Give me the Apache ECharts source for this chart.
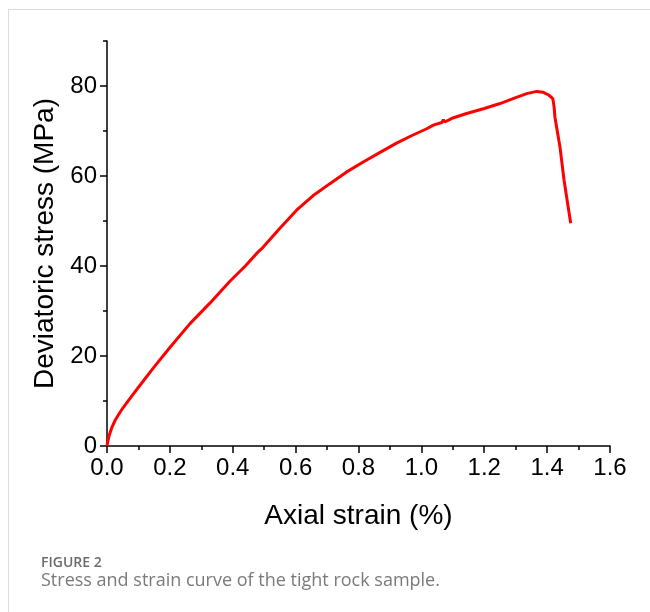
<!DOCTYPE html>
<html>
<head>
<meta charset="utf-8">
<script src="https://cdn.jsdelivr.net/npm/echarts@6/dist/echarts.min.js"></script>
<style>
  html, body { margin: 0; padding: 0; background: #fff; }
  #chart { width: 650px; height: 612px; }
</style>
</head>
<body>
<div id="chart"></div>
<script>
// axial strain (%)
var strain = [0, 0.003, 0.009, 0.016, 0.025, 0.038, 0.052, 0.068, 0.084, 0.105, 0.147, 0.2, 0.264, 0.328, 0.391, 0.44, 0.476, 0.497,
  0.55, 0.603, 0.655, 0.709, 0.76, 0.815, 0.87, 0.921, 0.97, 1.017, 1.038, 1.065, 1.07, 1.075, 1.1, 1.144,
  1.2, 1.25, 1.3, 1.335, 1.367, 1.388, 1.405, 1.418, 1.422, 1.425, 1.441, 1.454, 1.465, 1.475];
// deviatoric stress (MPa)
var stress = [0, 1.2, 2.8, 4.2, 5.6, 7.1, 8.6, 10.1, 11.6, 13.5, 17.3, 21.9, 27.2, 31.8, 36.6, 40.0, 42.8, 44.2,
  48.4, 52.4, 55.6, 58.3, 60.8, 63.1, 65.3, 67.3, 69.0, 70.5, 71.3, 71.9, 72.5, 72.0, 72.9, 73.9,
  75.0, 76.1, 77.4, 78.3, 78.8, 78.6, 78.0, 77.2, 75.5, 73.0, 66.4, 59.0, 54.0, 49.5];

var yMajor = [0, 20, 40, 60, 80];
var yMinor = [10, 30, 50, 70, 90];

var points = [];
for (var i = 0; i < strain.length; i++) {
  points.push([strain[i], stress[i]]);
}

var chart = echarts.init(document.getElementById('chart'));
var font = 'Liberation Sans, Arial, sans-serif';

var option = {
  animation: false,
  backgroundColor: '#fff',
  grid: { left: 107, right: 40, top: 41, bottom: 166, containLabel: false },
  xAxis: {
    type: 'value',
    min: 0,
    max: 1.6,
    interval: 0.2,
    name: 'Axial strain (%)',
    nameLocation: 'middle',
    nameGap: 56,
    nameTextStyle: { fontSize: 28, color: '#000', fontFamily: font },
    axisLine: { onZero: false, lineStyle: { color: '#000', width: 1.5 } },
    axisTick: { length: 7, lineStyle: { color: '#000', width: 1.5 } },
    minorTick: { show: true, splitNumber: 2, length: 4, lineStyle: { color: '#000', width: 1.5 } },
    axisLabel: {
      margin: 10, fontSize: 24, color: '#000', fontFamily: font,
      formatter: function (v) { return v.toFixed(1); }
    },
    splitLine: { show: false }
  },
  yAxis: [{
    type: 'value',
    min: 0,
    max: 90,
    name: 'Deviatoric stress (MPa)',
    nameLocation: 'middle',
    nameGap: 48,
    nameTextStyle: { fontSize: 28, color: '#000', fontFamily: font },
    axisLine: { show: true, onZero: false, lineStyle: { color: '#000', width: 1.5 } },
    axisTick: { show: true, length: 7, customValues: yMajor, lineStyle: { color: '#000', width: 1.5 } },
    axisLabel: { margin: 10, fontSize: 24, color: '#000', fontFamily: font, customValues: yMajor },
    splitLine: { show: false }
  }, {
    type: 'value',
    position: 'left',
    min: 0,
    max: 90,
    axisLine: { show: false },
    axisTick: { show: true, length: 4, customValues: yMinor, lineStyle: { color: '#000', width: 1.5 } },
    axisLabel: { show: false },
    splitLine: { show: false }
  }],
  series: [{
    type: 'line',
    yAxisIndex: 0,
    data: points,
    showSymbol: false,
    smooth: false,
    lineStyle: { color: '#ff0000', width: 3 }
  }],
  graphic: [
    { type: 'line', shape: { x1: 8, y1: 9.5, x2: 650, y2: 9.5 }, style: { stroke: '#dcdcdc', lineWidth: 1 } },
    { type: 'line', shape: { x1: 8.5, y1: 9, x2: 8.5, y2: 612 }, style: { stroke: '#dcdcdc', lineWidth: 1 } },
    {
      type: 'text', left: 41, top: 556,
      style: { text: 'FIGURE 2', fontSize: 14, fontWeight: 600, fill: '#6b6b6b', fontFamily: 'Open Sans, sans-serif' }
    },
    {
      type: 'text', left: 41, top: 572,
      style: { text: 'Stress and strain curve of the tight rock sample.', fontSize: 18, fill: '#7a7a7a', fontFamily: 'Open Sans, sans-serif' }
    }
  ]
};

chart.setOption(option);
</script>
</body>
</html>
